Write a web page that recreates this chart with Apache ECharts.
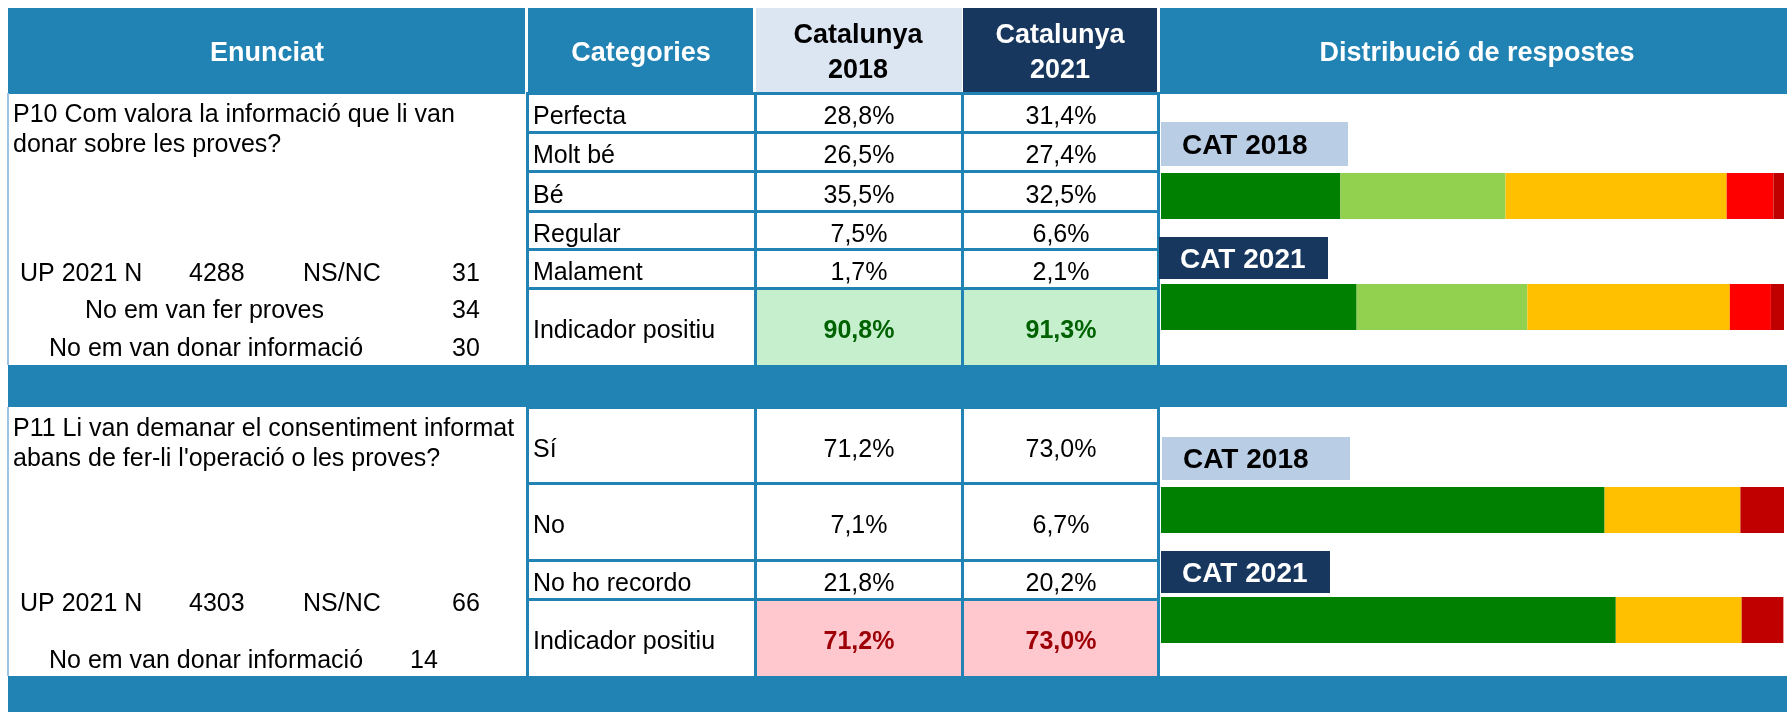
<html lang="ca">
<head>
  <meta charset="UTF-8">
  <title>Distribució de respostes</title>
  <style>
    html, body { margin: 0; padding: 0; background: #fff; }
    #chart { width: 1787px; height: 712px; }
  </style>
</head>
<body>
  <div id="chart"></div>
  <script src="https://cdn.jsdelivr.net/npm/echarts@6/dist/echarts.min.js"></script>
  <script>
    // --- data ---
    const headers = ['Enunciat', 'Categories', 'Distribució de respostes']
    const years = ['2018', '2021']

    const q10Text = ['P10 Com valora la informació que li van', 'donar sobre les proves?']
    const q10Cats = ['Perfecta', 'Molt bé', 'Bé', 'Regular', 'Malament']
    const q10Vals2018 = [28.8, 26.5, 35.5, 7.5, 1.7]
    const q10Vals2021 = [31.4, 27.4, 32.5, 6.6, 2.1]
    const q10Ind = [90.8, 91.3]
    const q10Colors = ['#008000', '#92D050', '#FFC000', '#FF0000', '#C00000']
    const q10Notes = [['UP 2021 N', 4288, 'NS/NC', 31], ['No em van fer proves', 34], ['No em van donar informació', 30]]

    const q11Text = ['P11 Li van demanar el consentiment informat', "abans de fer-li l'operació o les proves?"]
    const q11Cats = ['Sí', 'No', 'No ho recordo']
    const q11Vals2018 = [71.2, 7.1, 21.8]
    const q11Vals2021 = [73.0, 6.7, 20.2]
    const q11Ind = [71.2, 73.0]
    const q11Colors = ['#008000', '#C00000', '#FFC000']
    const q11BarOrder = [0, 2, 1]   // Sí, No ho recordo, No
    const q11Notes = [['UP 2021 N', 4303, 'NS/NC', 66], ['No em van donar informació', 14]]

    // --- style ---
    const FONT = '"Liberation Sans", Arial, sans-serif'
    const BLUE = '#2083B4'
    const NAVY = '#17375E'
    const LIGHT = '#DCE6F2'
    const CATLIGHT = '#B9CDE5'
    const DY = 2   // small baseline nudge for all text

    const fmt = v => v.toFixed(1).replace('.', ',') + '%'

    const g = []
    function rect(x, y, w, h, fill) {
      g.push({ type: 'rect', silent: true, shape: { x, y, width: w, height: h }, style: { fill } })
    }
    function txt(x, y, s, o = {}) {
      g.push({
        type: 'text', silent: true, x, y: y + DY, z: 10,
        style: {
          text: String(s), fill: o.color || '#000',
          fontSize: o.size || 25, fontWeight: o.bold ? 'bold' : 'normal', fontFamily: FONT,
          textAlign: o.align || 'left', align: o.align || 'left',
          textVerticalAlign: 'middle', verticalAlign: 'middle',
          lineHeight: o.lh || 30
        }
      })
    }

    // header band
    rect(8, 8, 517, 86, BLUE)
    rect(528, 8, 225, 86, BLUE)
    rect(756, 8, 206, 86, LIGHT)
    rect(963, 8, 194, 86, NAVY)
    rect(1160, 8, 627, 86, BLUE)
    txt(267, 52, headers[0], { size: 27, bold: true, color: '#fff', align: 'center' })
    txt(641, 52, headers[1], { size: 27, bold: true, color: '#fff', align: 'center' })
    txt(858, 51, 'Catalunya\n' + years[0], { size: 27, bold: true, color: '#000', align: 'center', lh: 35 })
    txt(1060, 51, 'Catalunya\n' + years[1], { size: 27, bold: true, color: '#fff', align: 'center', lh: 35 })
    txt(1477, 52, headers[2], { size: 27, bold: true, color: '#fff', align: 'center' })

    // separator bands
    rect(8, 365, 1779, 42, BLUE)
    rect(8, 676, 1779, 36, BLUE)

    // table body of one question
    function section(rows, cats, v18, v21, ind, good, text, notes, noteRows) {
      const top = rows[0], bot = rows[rows.length - 1]
      rect(7, top, 2, bot - top, '#9DC3E6')
      const iy = rows[rows.length - 2]
      rect(756, iy, 206, bot - iy, good ? '#C6EFCE' : '#FFC7CE')
      rect(963, iy, 195, bot - iy, good ? '#C6EFCE' : '#FFC7CE')
      ;[526, 754, 961, 1157].forEach(x => rect(x, top, 3, bot - top, BLUE))
      rows.slice(0, -1).forEach(y => rect(526, y - 1, 634, 3, BLUE))
      const labels = cats.concat(['Indicador positiu'])
      labels.forEach((c, i) => {
        const cy = (rows[i] + rows[i + 1]) / 2 + 3
        txt(533, cy, c)
        if (i < cats.length) {
          txt(859, cy, fmt(v18[i]), { align: 'center' })
          txt(1061, cy, fmt(v21[i]), { align: 'center' })
        } else {
          const col = good ? '#006100' : '#9C0006'
          txt(859, cy, fmt(ind[0]), { align: 'center', bold: true, color: col })
          txt(1061, cy, fmt(ind[1]), { align: 'center', bold: true, color: col })
        }
      })
      txt(13, top + 20, text[0])
      txt(13, top + 50, text[1])
      notes.forEach((n, i) => {
        const y = noteRows[i]
        if (n.length === 4) {
          txt(20, y, n[0]); txt(189, y, n[1]); txt(303, y, n[2]); txt(452, y, n[3])
        } else {
          txt(n[0] === 'No em van fer proves' ? 85 : 49, y, n[0])
          txt(i === 1 && notes.length === 2 ? 410 : 452, y, n[1])
        }
      })
    }

    section([93, 132, 171, 211, 249, 288, 365], q10Cats, q10Vals2018, q10Vals2021, q10Ind, true,
      q10Text, q10Notes, [272, 309, 347])
    section([407, 483, 560, 599, 676], q11Cats, q11Vals2018, q11Vals2021, q11Ind, false,
      q11Text, q11Notes, [602, 659])

    // CAT labels above bars
    function catLabel(x, y, w, h, year, dark) {
      rect(x, y, w, h, dark ? NAVY : CATLIGHT)
      txt(x + 21, y + h / 2, 'CAT ' + year, { size: 28, bold: true, color: dark ? '#fff' : '#000' })
    }
    catLabel(1161, 122, 187, 44, years[0], false)
    catLabel(1159, 237, 169, 42, years[1], true)
    catLabel(1162, 437, 188, 43, years[0], false)
    catLabel(1161, 551, 169, 42, years[1], true)

    // --- stacked bars ---
    const bars = [
      { top: 173, vals: q10Vals2018, colors: q10Colors, order: [0, 1, 2, 3, 4] },
      { top: 284, vals: q10Vals2021, colors: q10Colors, order: [0, 1, 2, 3, 4] },
      { top: 487, vals: q11Vals2018, colors: q11Colors, order: q11BarOrder },
      { top: 597, vals: q11Vals2021, colors: q11Colors, order: q11BarOrder }
    ]
    const grid = [], xAxis = [], yAxis = [], series = []
    bars.forEach((b, i) => {
      grid.push({ left: 1161, width: 623, top: b.top, height: 46 })
      xAxis.push({ type: 'value', gridIndex: i, min: 0, max: 100, show: false })
      yAxis.push({ type: 'category', gridIndex: i, data: [''], show: false })
      b.order.forEach(k => {
        series.push({
          type: 'bar', xAxisIndex: i, yAxisIndex: i, stack: 's' + i,
          barWidth: '100%', silent: true,
          itemStyle: { color: b.colors[k] },
          data: [b.vals[k]]
        })
      })
    })

    const chart = echarts.init(document.getElementById('chart'))
    chart.setOption({
      animation: false,
      backgroundColor: '#fff',
      grid, xAxis, yAxis, series,
      graphic: { elements: g }
    })
  </script>
</body>
</html>
